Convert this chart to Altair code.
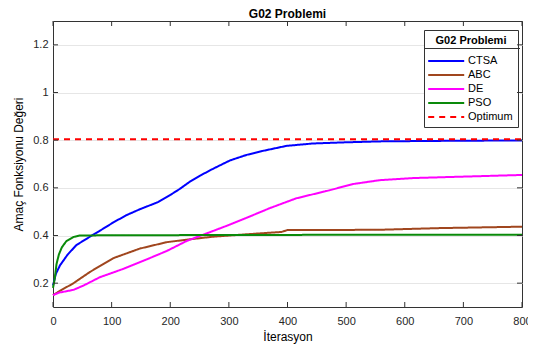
import altair as alt
import pandas as pd

names = ["CTSA", "ABC", "DE", "PSO", "Optimum"]
colors = ["#0000ff", "#a0461e", "#ff00ff", "#0a8a0a", "#ff0000"]
dashes = [[1, 0], [1, 0], [1, 0], [1, 0], [6, 5]]

ctsa_x = [0, 2, 5, 12, 25, 40, 63, 80, 103, 125, 148, 179, 200, 216, 233, 250, 273, 302, 330, 358, 398, 443, 500, 560, 659, 800]
ctsa_y = [0.19, 0.21, 0.24, 0.275, 0.32, 0.36, 0.395, 0.42, 0.455, 0.485, 0.51, 0.54, 0.57, 0.595, 0.625, 0.65, 0.68, 0.715, 0.738, 0.755, 0.776, 0.786, 0.791, 0.795, 0.797, 0.799]

abc_x = [0, 10, 35, 63, 103, 148, 194, 233, 273, 330, 390, 400, 450, 557, 659, 800]
abc_y = [0.15, 0.165, 0.2, 0.247, 0.305, 0.345, 0.372, 0.384, 0.395, 0.405, 0.415, 0.423, 0.423, 0.424, 0.431, 0.437]

de_x = [0, 10, 35, 52, 80, 120, 160, 194, 228, 273, 302, 330, 370, 415, 472, 512, 557, 614, 671, 800]
de_y = [0.15, 0.16, 0.172, 0.19, 0.225, 0.26, 0.3, 0.335, 0.377, 0.419, 0.446, 0.474, 0.515, 0.556, 0.59, 0.616, 0.632, 0.641, 0.645, 0.654]

pso_x = [0, 3, 6, 10, 15, 23, 35, 46, 100, 300, 500, 800]
pso_y = [0.18, 0.22, 0.28, 0.32, 0.35, 0.377, 0.394, 0.40, 0.401, 0.402, 0.403, 0.403]

opt_x = [0, 800]
opt_y = [0.8036, 0.8036]

x_ticks = [0, 100, 200, 300, 400, 500, 600, 700, 800]
y_ticks = [0.2, 0.4, 0.6, 0.8, 1.0, 1.2]

rows = []
for name, xs, ys in [("CTSA", ctsa_x, ctsa_y), ("ABC", abc_x, abc_y), ("DE", de_x, de_y),
                     ("PSO", pso_x, pso_y), ("Optimum", opt_x, opt_y)]:
    for i, (a, b) in enumerate(zip(xs, ys)):
        rows.append({"series": name, "x": a, "y": b, "order": i})
df = pd.DataFrame(rows)

W, H = 469, 286
FONT = "Liberation Sans"

xscale = alt.Scale(domain=[0, 800], nice=False)
yscale = alt.Scale(domain=[0.1, 1.3], nice=False)
xaxis = alt.Axis(title="İterasyon", values=x_ticks, grid=False, tickSize=0,
                 labelPadding=8, titlePadding=5, labelFlush=False)
yaxis = alt.Axis(title="Amaç Fonksiyonu Değeri", values=y_ticks, format="~g",
                 grid=True, tickSize=0, labelPadding=5, titlePadding=7, labelFlush=False)

leg = alt.Legend(
    title="G02 Problemi", orient="none", legendX=371, legendY=9,
    strokeColor="#333333", padding=5,
    titleFontSize=11, titleFontWeight="bold", titleFont=FONT, titleColor="#000000",
    titleAnchor="middle", titlePadding=8,
    labelFontSize=11, labelFont=FONT, labelColor="#000000", labelOffset=25,
    symbolType="M-1.3,0H4.7", symbolSize=144, symbolStrokeWidth=2, rowPadding=2,
)

lines = alt.Chart(df).mark_line(strokeWidth=2).encode(
    x=alt.X("x:Q", scale=xscale, axis=xaxis),
    y=alt.Y("y:Q", scale=yscale, axis=yaxis),
    color=alt.Color("series:N", scale=alt.Scale(domain=names, range=colors), legend=leg),
    strokeDash=alt.StrokeDash("series:N", scale=alt.Scale(domain=names, range=dashes), legend=leg),
    order="order:Q",
)

xt = pd.DataFrame({"x": x_ticks})
yt = pd.DataFrame({"y": y_ticks})
tick_color = "#333333"
bot = alt.Chart(xt).mark_rule(color=tick_color).encode(
    x=alt.X("x:Q", scale=xscale, axis=xaxis), y=alt.value(H), y2=alt.value(H - 5))
top = alt.Chart(xt).mark_rule(color=tick_color).encode(
    x=alt.X("x:Q", scale=xscale, axis=xaxis), y=alt.value(0), y2=alt.value(5))
left = alt.Chart(yt).mark_rule(color=tick_color).encode(
    y=alt.Y("y:Q", scale=yscale, axis=yaxis), x=alt.value(0), x2=alt.value(5))
right = alt.Chart(yt).mark_rule(color=tick_color).encode(
    y=alt.Y("y:Q", scale=yscale, axis=yaxis), x=alt.value(W), x2=alt.value(W - 5))

one = pd.DataFrame({"k": [0]})
legbg = alt.Chart(one).mark_rect(color="white").encode(
    x=alt.value(371), x2=alt.value(467), y=alt.value(9), y2=alt.value(104))
sep = alt.Chart(one).mark_rule(color="#333333", strokeWidth=1).encode(
    x=alt.value(371), x2=alt.value(467), y=alt.value(27.5))

chart = alt.layer(lines, legbg, sep, bot, top, left, right).properties(
    width=W, height=H,
    title=alt.TitleParams("G02 Problemi", fontSize=12, fontWeight="bold", font=FONT,
                          color="#000000", anchor="middle", offset=0),
    autosize=alt.AutoSizeParams(type="none"),
    padding={"left": 45, "top": 13, "right": 6, "bottom": 40},
).configure_view(
    stroke="#333333", strokeWidth=1
).configure_axis(
    domain=False, labelFont=FONT, titleFont=FONT, labelFontSize=11, titleFontSize=12,
    labelColor="#262626", titleColor="#000000", titleFontWeight="normal",
    gridColor="#e6e6e6", gridWidth=1,
)

chart.save("out.html", embed_options={"renderer": "svg", "actions": False})
